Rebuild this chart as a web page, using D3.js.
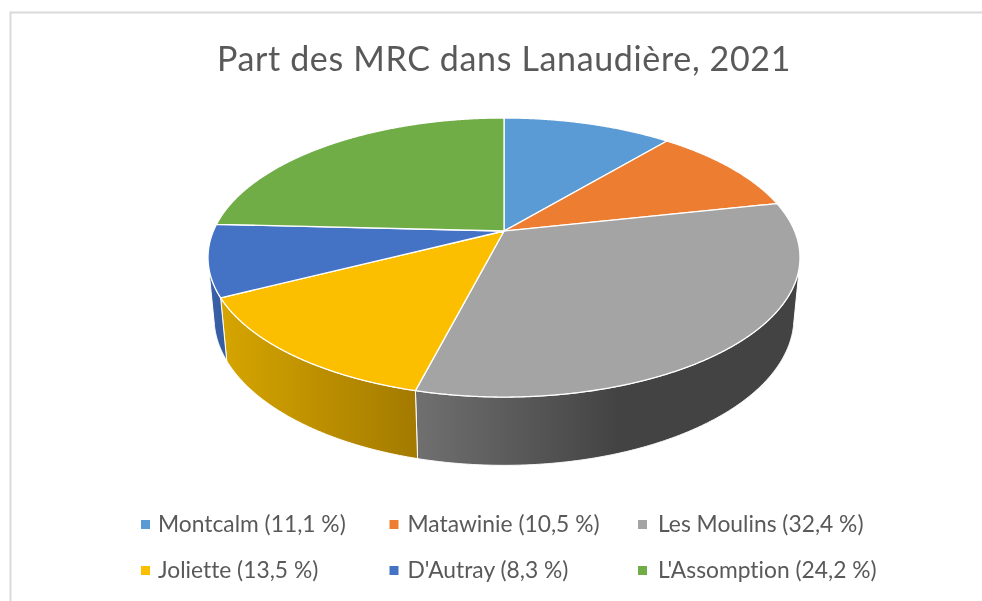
<!DOCTYPE html>
<html lang="fr">
<head>
<meta charset="utf-8">
<title>Part des MRC dans Lanaudière, 2021</title>
<script src="https://cdn.jsdelivr.net/npm/d3@7"></script>
<style>
  html, body { margin: 0; padding: 0; background: #fff; }
  /* the reference is a slightly soft screen capture */
  svg { display: block; font-family: Lato, "Open Sans", sans-serif; font-variant-ligatures: none; filter: blur(0.45px); }
</style>
</head>
<body>
<svg id="chart" width="982" height="601"></svg>
<script>
const chartTitle = "Part des MRC dans Lanaudière, 2021";
const categories = ["Montcalm", "Matawinie", "Les Moulins", "Joliette", "D'Autray", "L'Assomption"];
const shares = [11.1, 10.5, 32.4, 13.5, 8.3, 24.2];
const topColors = ["#5b9bd5", "#ed7d31", "#a4a4a4", "#fcbf00", "#4472c4", "#70ad47"];
// wall shading, left to right, the way the spreadsheet lights a 3-D pie
const wallColors = [
  ["#4f86b8", "#4f86b8"],
  ["#c96a29", "#c96a29"],
  ["#707070", "#434343"],
  ["#d6a500", "#a37a00"],
  ["#3a62aa", "#355b9f"],
  ["#5f933c", "#5f933c"]
];

function drawPie3d() {
  const svg = d3.select("#chart");
  const width = +svg.attr("width");

  // Disc is a flat circle seen in perspective: the back shrinks, the front grows.
  const center = { x: 504, y: 231 };
  const radiusX = 290.6;
  const radiusY = 134.5;
  const tilt = 0.19;
  const wallDepth = 60;
  const wallShrink = 0.02;

  const project = (angle, drop, shrink) => {
    const u = Math.sin(angle);
    const v = Math.cos(angle);
    const s = 1 / (1 + tilt * v + shrink);
    return [center.x + radiusX * u * s, center.y + (drop - radiusY * v) * s];
  };
  const rimTop = a => project(a, 0, 0);
  const rimBottom = a => project(a, wallDepth, wallShrink);

  // A point of the wall faces the viewer when the rim runs to the left of its
  // vertical edge.
  function wallVisible(a) {
    const p = rimTop(a);
    const n = rimTop(a + 0.001);
    const q = rimBottom(a);
    return (n[0] - p[0]) * (q[1] - p[1]) - (n[1] - p[1]) * (q[0] - p[0]) < 0;
  }

  const sweep = (a, b) => d3.range(a, b, 0.005).concat(b);
  const line = d3.line();

  const slices = d3.pie().sort(null).value(d => d)(shares);

  // frame, only top and left are visible in the capture
  svg.append("path")
    .attr("d", line([[10.5, 601], [10.5, 12.5], [width, 12.5]]))
    .attr("fill", "none")
    .attr("stroke", "#d9d9d9")
    .attr("stroke-width", 2);

  svg.append("text")
    .attr("x", 504)
    .attr("y", 71)
    .attr("text-anchor", "middle")
    .attr("fill", "#595959")
    .attr("font-size", 34)
    .attr("letter-spacing", 0.65)
    .text(chartTitle);

  const defs = svg.append("defs");

  slices.forEach((slice, i) => {
    const visible = sweep(slice.startAngle, slice.endAngle).filter(wallVisible);
    if (visible.length < 2) return;

    const top = visible.map(rimTop);
    const bottom = visible.map(rimBottom).reverse();
    const xs = top.concat(bottom).map(d => d[0]);

    // The gray wall goes flat past the middle of the disc.
    const xEnd = i === 2 ? center.x + 115 : d3.max(xs);
    const grad = defs.append("linearGradient")
      .attr("id", `wall-${i}`)
      .attr("gradientUnits", "userSpaceOnUse")
      .attr("x1", d3.min(xs)).attr("x2", xEnd)
      .attr("y1", 0).attr("y2", 0);
    grad.append("stop").attr("offset", 0).attr("stop-color", wallColors[i][0]);
    grad.append("stop").attr("offset", 1).attr("stop-color", wallColors[i][1]);

    svg.append("path")
      .attr("d", line(top.concat(bottom)) + "Z")
      .attr("fill", `url(#wall-${i})`)
      .attr("stroke", "#fff")
      .attr("stroke-width", 1)
      .attr("stroke-linejoin", "round");
  });

  slices.forEach((slice, i) => {
    const rim = sweep(slice.startAngle, slice.endAngle).map(rimTop);
    svg.append("path")
      .attr("d", line([[center.x, center.y]].concat(rim)) + "Z")
      .attr("fill", topColors[i])
      .attr("stroke", "#fff")
      .attr("stroke-width", 1.3)
      .attr("stroke-linejoin", "round");
  });

  const legendX = d3.scalePoint().domain([0, 1, 2]).range([141, 638]);
  const legendY = d3.scalePoint().domain([0, 1]).range([532, 578]);
  const labelGap = [17, 18, 20];

  const rows = svg.selectAll(".legend-row")
    .data(categories)
    .join("g")
    .attr("class", "legend-row")
    .attr("transform", (d, i) => `translate(${legendX(i % 3)},${legendY(Math.floor(i / 3))})`);

  rows.append("rect")
    .attr("x", 0)
    .attr("y", -12)
    .attr("width", 9)
    .attr("height", 9)
    .attr("fill", (d, i) => topColors[i]);

  rows.append("text")
    .attr("x", (d, i) => labelGap[i % 3])
    .attr("fill", "#595959")
    .attr("font-size", 22.8)
    .text((d, i) => `${d} (${String(shares[i]).replace(".", ",")} %)`);
}

drawPie3d();
</script>
</body>
</html>
